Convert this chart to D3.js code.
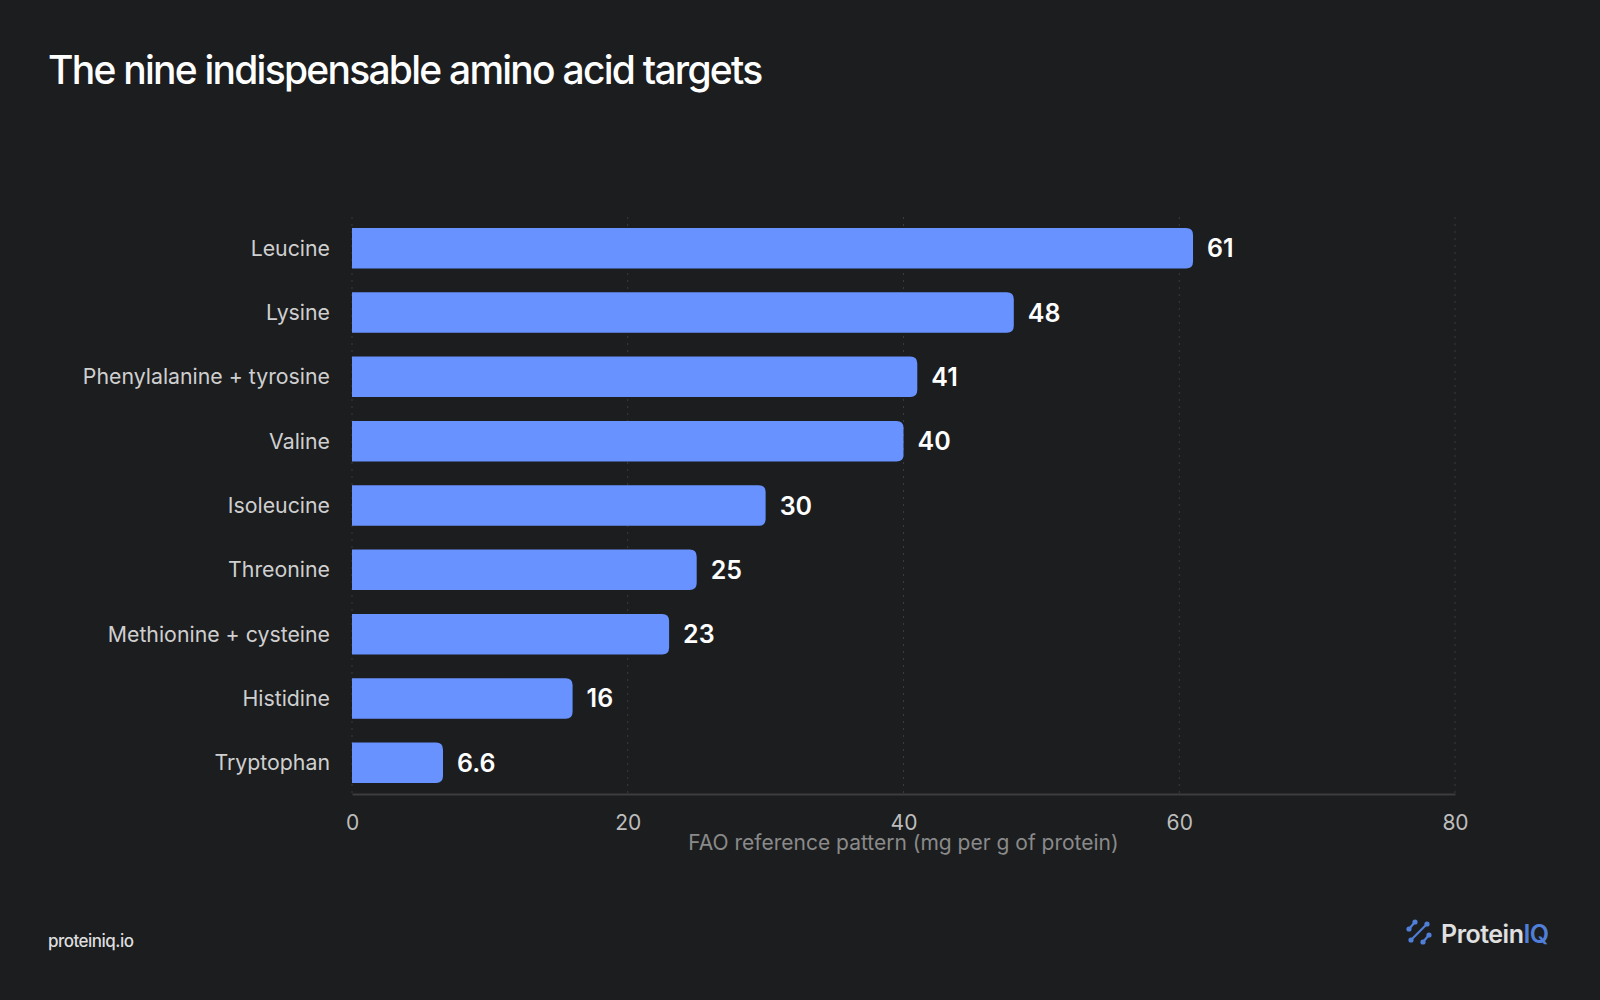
<!DOCTYPE html>
<html>
<head>
<meta charset="utf-8">
<script src="https://cdn.jsdelivr.net/npm/d3@7"></script>
<style>
  html, body { margin: 0; padding: 0; background: #1c1d1f; }
  svg { display: block; font-family: Inter, 'Noto Sans', sans-serif; }
</style>
</head>
<body>
<div id="chart"></div>
<script>
// amino acids, top to bottom
const acids = ['Leucine', 'Lysine', 'Phenylalanine + tyrosine', 'Valine', 'Isoleucine',
    'Threonine', 'Methionine + cysteine', 'Histidine', 'Tryptophan'];
const targets = [61, 48, 41, 40, 30, 25, 23, 16, 6.6];
const valueLabels = ['61', '48', '41', '40', '30', '25', '23', '16', '6.6'];
const xTicks = [0, 20, 40, 60, 80];

const width = 1600;
const height = 1000;
const barColor = '#6892ff';

const svg = d3.select('#chart').append('svg')
    .attr('width', width)
    .attr('height', height)
    .attr('viewBox', [0, 0, width, height]);

svg.append('rect')
    .attr('width', width)
    .attr('height', height)
    .attr('fill', '#1c1d1f');

// title
svg.append('text')
    .attr('x', 48)
    .attr('y', 84)
    .attr('fill', '#ffffff')
    .attr('font-size', 39)
    .attr('font-weight', 500)
    .attr('letter-spacing', '-0.045em')
    .text('The nine indispensable amino acid targets');

const x = d3.scaleLinear()
    .domain([0, 80])
    .range([352, 1455]);

const y = d3.scaleBand()
    .domain(acids)
    .range([217, 794])
    .paddingInner(0.37)
    .paddingOuter(0.17);

// dotted grid lines
svg.append('g')
    .selectAll('line')
    .data(xTicks)
    .join('line')
    .attr('x1', d => x(d))
    .attr('x2', d => x(d))
    .attr('y1', 217)
    .attr('y2', 794)
    .attr('stroke', '#3a3b3e')
    .attr('stroke-width', 1)
    .attr('stroke-dasharray', '2,5');

// bottom axis
const xAxis = svg.append('g')
    .attr('transform', 'translate(0,794)')
    .call(d3.axisBottom(x).tickValues(xTicks).tickSize(0).tickPadding(21));
xAxis.select('.domain').attr('stroke', '#3c3d40').attr('stroke-width', 2);
xAxis.selectAll('text')
    .attr('fill', '#bdbdbd')
    .attr('font-size', 21)
    .attr('font-family', 'Inter, sans-serif');

svg.append('text')
    .attr('x', (x(0) + x(80)) / 2)
    .attr('y', 850)
    .attr('text-anchor', 'middle')
    .attr('fill', '#8a8a8a')
    .attr('font-size', 21)
    .text('FAO reference pattern (mg per g of protein)');

// category labels
svg.append('g')
    .selectAll('text')
    .data(acids)
    .join('text')
    .attr('x', 330)
    .attr('y', d => y(d) + y.bandwidth() / 2)
    .attr('dy', '0.35em')
    .attr('text-anchor', 'end')
    .attr('fill', '#cfcfcf')
    .attr('font-size', 21.3)
    .text(d => d);

// bars, square on the left and rounded on the right
const r = 7;
function barPath(v, name) {
    const x0 = x(0), x1 = x(v);
    const y0 = y(name), y1 = y0 + y.bandwidth();
    return `M${x0},${y0}H${x1 - r}Q${x1},${y0} ${x1},${y0 + r}V${y1 - r}Q${x1},${y1} ${x1 - r},${y1}H${x0}Z`;
}

svg.append('g')
    .selectAll('path')
    .data(targets)
    .join('path')
    .attr('d', (d, i) => barPath(d, acids[i]))
    .attr('fill', barColor);

svg.append('g')
    .selectAll('text')
    .data(targets)
    .join('text')
    .attr('x', d => x(d) + 14)
    .attr('y', (d, i) => y(acids[i]) + y.bandwidth() / 2)
    .attr('dy', '0.36em')
    .attr('fill', '#ffffff')
    .attr('font-size', 25)
    .attr('font-weight', 600)
    .text((d, i) => valueLabels[i]);

// footer
svg.append('text')
    .attr('x', 48)
    .attr('y', 947)
    .attr('fill', '#dedede')
    .attr('font-size', 17)
    .attr('font-weight', 500)
    .attr('letter-spacing', '-0.03em')
    .text('proteiniq.io');

// logo mark: three diagonal strokes with dotted ends
const logo = svg.append('g').attr('transform', 'translate(1419,932)');
const strokes = [[-10, -3, -4, -10], [-8, 8, 8, -8], [4, 10, 10, 3]];
strokes.forEach(s => {
    logo.append('line')
        .attr('x1', s[0]).attr('y1', s[1]).attr('x2', s[2]).attr('y2', s[3])
        .attr('stroke', '#4f7fd9').attr('stroke-width', 2.2).attr('stroke-linecap', 'round');
    logo.append('circle').attr('cx', s[0]).attr('cy', s[1]).attr('r', 2.6).attr('fill', '#4f7fd9');
    logo.append('circle').attr('cx', s[2]).attr('cy', s[3]).attr('r', 2.6).attr('fill', '#4f7fd9');
});

const brand = svg.append('text')
    .attr('x', 1441)
    .attr('y', 943)
    .attr('font-size', 25)
    .attr('font-weight', 600)
    .attr('letter-spacing', '-0.02em');
brand.append('tspan').attr('fill', '#e0e0e0').text('Protein');
brand.append('tspan').attr('fill', '#4f7fd9').text('IQ');
</script>
</body>
</html>
